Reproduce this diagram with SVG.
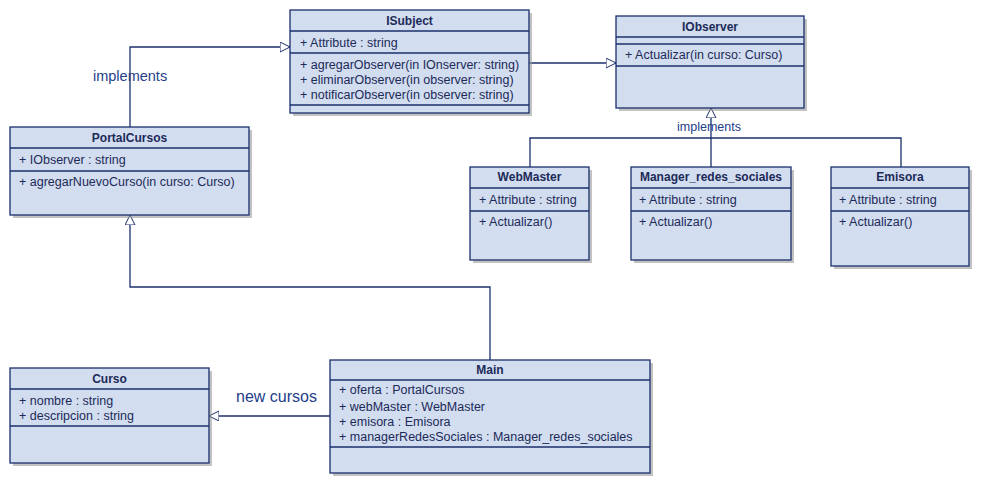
<svg xmlns="http://www.w3.org/2000/svg" width="981" height="485" viewBox="0 0 981 485">
<defs>
<style>
.box{fill:#d2ddf0;stroke:#1b2f6b;stroke-width:1.3}
.sh{fill:#9a9a9a;opacity:0.6}
.dv{stroke:#1b2f6b;stroke-width:1.3}
.t{font-family:"Liberation Sans",Arial,sans-serif;font-size:12.5px;fill:#1c2a58}
.b{font-weight:bold;text-anchor:middle;font-size:12px}
.lbl{font-family:"Liberation Sans",Arial,sans-serif;fill:#24408a}
.ln{fill:none;stroke:#1b2f6b;stroke-width:1.3}
</style>
<marker id="tri" markerWidth="12" markerHeight="12" refX="10" refY="5" orient="auto" markerUnits="userSpaceOnUse">
<path d="M0,0 L10,5 L0,10 Z" fill="#ffffff" stroke="#1b2f6b" stroke-width="1"/>
</marker>
</defs>
<rect width="981" height="485" fill="#ffffff"/>
<g id="connectors">
<polyline class="ln" points="130,127 130,47 290,47" marker-end="url(#tri)"/>
<polyline class="ln" points="529,63 616,63" marker-end="url(#tri)"/>
<polyline class="ln" points="530,167 530,138 901,138 901,167"/>
<polyline class="ln" points="711,167 711,108" marker-end="url(#tri)"/>
<polyline class="ln" points="490,360 490,287 130,287 130,215" marker-end="url(#tri)"/>
<polyline class="ln" points="330,416 209,416" marker-end="url(#tri)"/>
<text class="lbl" x="93" y="81" font-size="14.5">implements</text>
<text class="lbl" x="709" y="131" font-size="12.5" text-anchor="middle">implements</text>
<text class="lbl" x="236" y="402" font-size="16">new cursos</text>
</g>
<g id="ISubject">
<rect class="sh" x="293" y="13" width="239" height="103"/>
<rect class="box" x="290" y="10" width="239" height="103"/>
<line class="dv" x1="290" y1="31" x2="529" y2="31"/>
<line class="dv" x1="290" y1="53" x2="529" y2="53"/>
<line class="dv" x1="290" y1="105" x2="529" y2="105"/>
<text class="t b" x="409.5" y="25">ISubject</text>
<text class="t" x="300" y="47">+ Attribute : string</text>
<text class="t" x="300" y="69">+ agregarObserver(in IOnserver: string)</text>
<text class="t" x="300" y="84">+ eliminarObserver(in observer: string)</text>
<text class="t" x="300" y="99">+ notificarObserver(in observer: string)</text>
</g>
<g id="IObserver">
<rect class="sh" x="619" y="19" width="188" height="92"/>
<rect class="box" x="616" y="16" width="188" height="92"/>
<line class="dv" x1="616" y1="37" x2="804" y2="37"/>
<line class="dv" x1="616" y1="44" x2="804" y2="44"/>
<line class="dv" x1="616" y1="66" x2="804" y2="66"/>
<text class="t b" x="710" y="31">IObserver</text>
<text class="t" x="625" y="59">+ Actualizar(in curso: Curso)</text>
</g>
<g id="PortalCursos">
<rect class="sh" x="13" y="130" width="239" height="88"/>
<rect class="box" x="10" y="127" width="239" height="88"/>
<line class="dv" x1="10" y1="148" x2="249" y2="148"/>
<line class="dv" x1="10" y1="171" x2="249" y2="171"/>
<text class="t b" x="129.5" y="142">PortalCursos</text>
<text class="t" x="19" y="164">+ IObserver : string</text>
<text class="t" x="19" y="186">+ agregarNuevoCurso(in curso: Curso)</text>
</g>
<g id="WebMaster">
<rect class="sh" x="473" y="170" width="119" height="93"/>
<rect class="box" x="470" y="167" width="119" height="93"/>
<line class="dv" x1="470" y1="188" x2="589" y2="188"/>
<line class="dv" x1="470" y1="211" x2="589" y2="211"/>
<text class="t b" x="529.5" y="181">WebMaster</text>
<text class="t" x="479" y="204">+ Attribute : string</text>
<text class="t" x="479" y="226">+ Actualizar()</text>
</g>
<g id="Manager_redes_sociales">
<rect class="sh" x="634" y="170" width="160" height="93"/>
<rect class="box" x="631" y="167" width="160" height="93"/>
<line class="dv" x1="631" y1="188" x2="791" y2="188"/>
<line class="dv" x1="631" y1="211" x2="791" y2="211"/>
<text class="t b" x="711" y="181">Manager_redes_sociales</text>
<text class="t" x="639" y="204">+ Attribute : string</text>
<text class="t" x="639" y="226">+ Actualizar()</text>
</g>
<g id="Emisora">
<rect class="sh" x="834" y="170" width="138" height="99"/>
<rect class="box" x="831" y="167" width="138" height="99"/>
<line class="dv" x1="831" y1="188" x2="969" y2="188"/>
<line class="dv" x1="831" y1="211" x2="969" y2="211"/>
<text class="t b" x="900" y="181">Emisora</text>
<text class="t" x="839" y="204">+ Attribute : string</text>
<text class="t" x="839" y="226">+ Actualizar()</text>
</g>
<g id="Curso">
<rect class="sh" x="13" y="371" width="199" height="95"/>
<rect class="box" x="10" y="368" width="199" height="95"/>
<line class="dv" x1="10" y1="389" x2="209" y2="389"/>
<line class="dv" x1="10" y1="426" x2="209" y2="426"/>
<text class="t b" x="109.5" y="383">Curso</text>
<text class="t" x="19" y="405">+ nombre : string</text>
<text class="t" x="19" y="420">+ descripcion : string</text>
</g>
<g id="Main">
<rect class="sh" x="333" y="363" width="320" height="113"/>
<rect class="box" x="330" y="360" width="320" height="113"/>
<line class="dv" x1="330" y1="380" x2="650" y2="380"/>
<line class="dv" x1="330" y1="447" x2="650" y2="447"/>
<text class="t b" x="490" y="374">Main</text>
<text class="t" x="339" y="394">+ oferta : PortalCursos</text>
<text class="t" x="339" y="411">+ webMaster : WebMaster</text>
<text class="t" x="339" y="426">+ emisora : Emisora</text>
<text class="t" x="339" y="441">+ managerRedesSociales : Manager_redes_sociales</text>
</g>
</svg>
